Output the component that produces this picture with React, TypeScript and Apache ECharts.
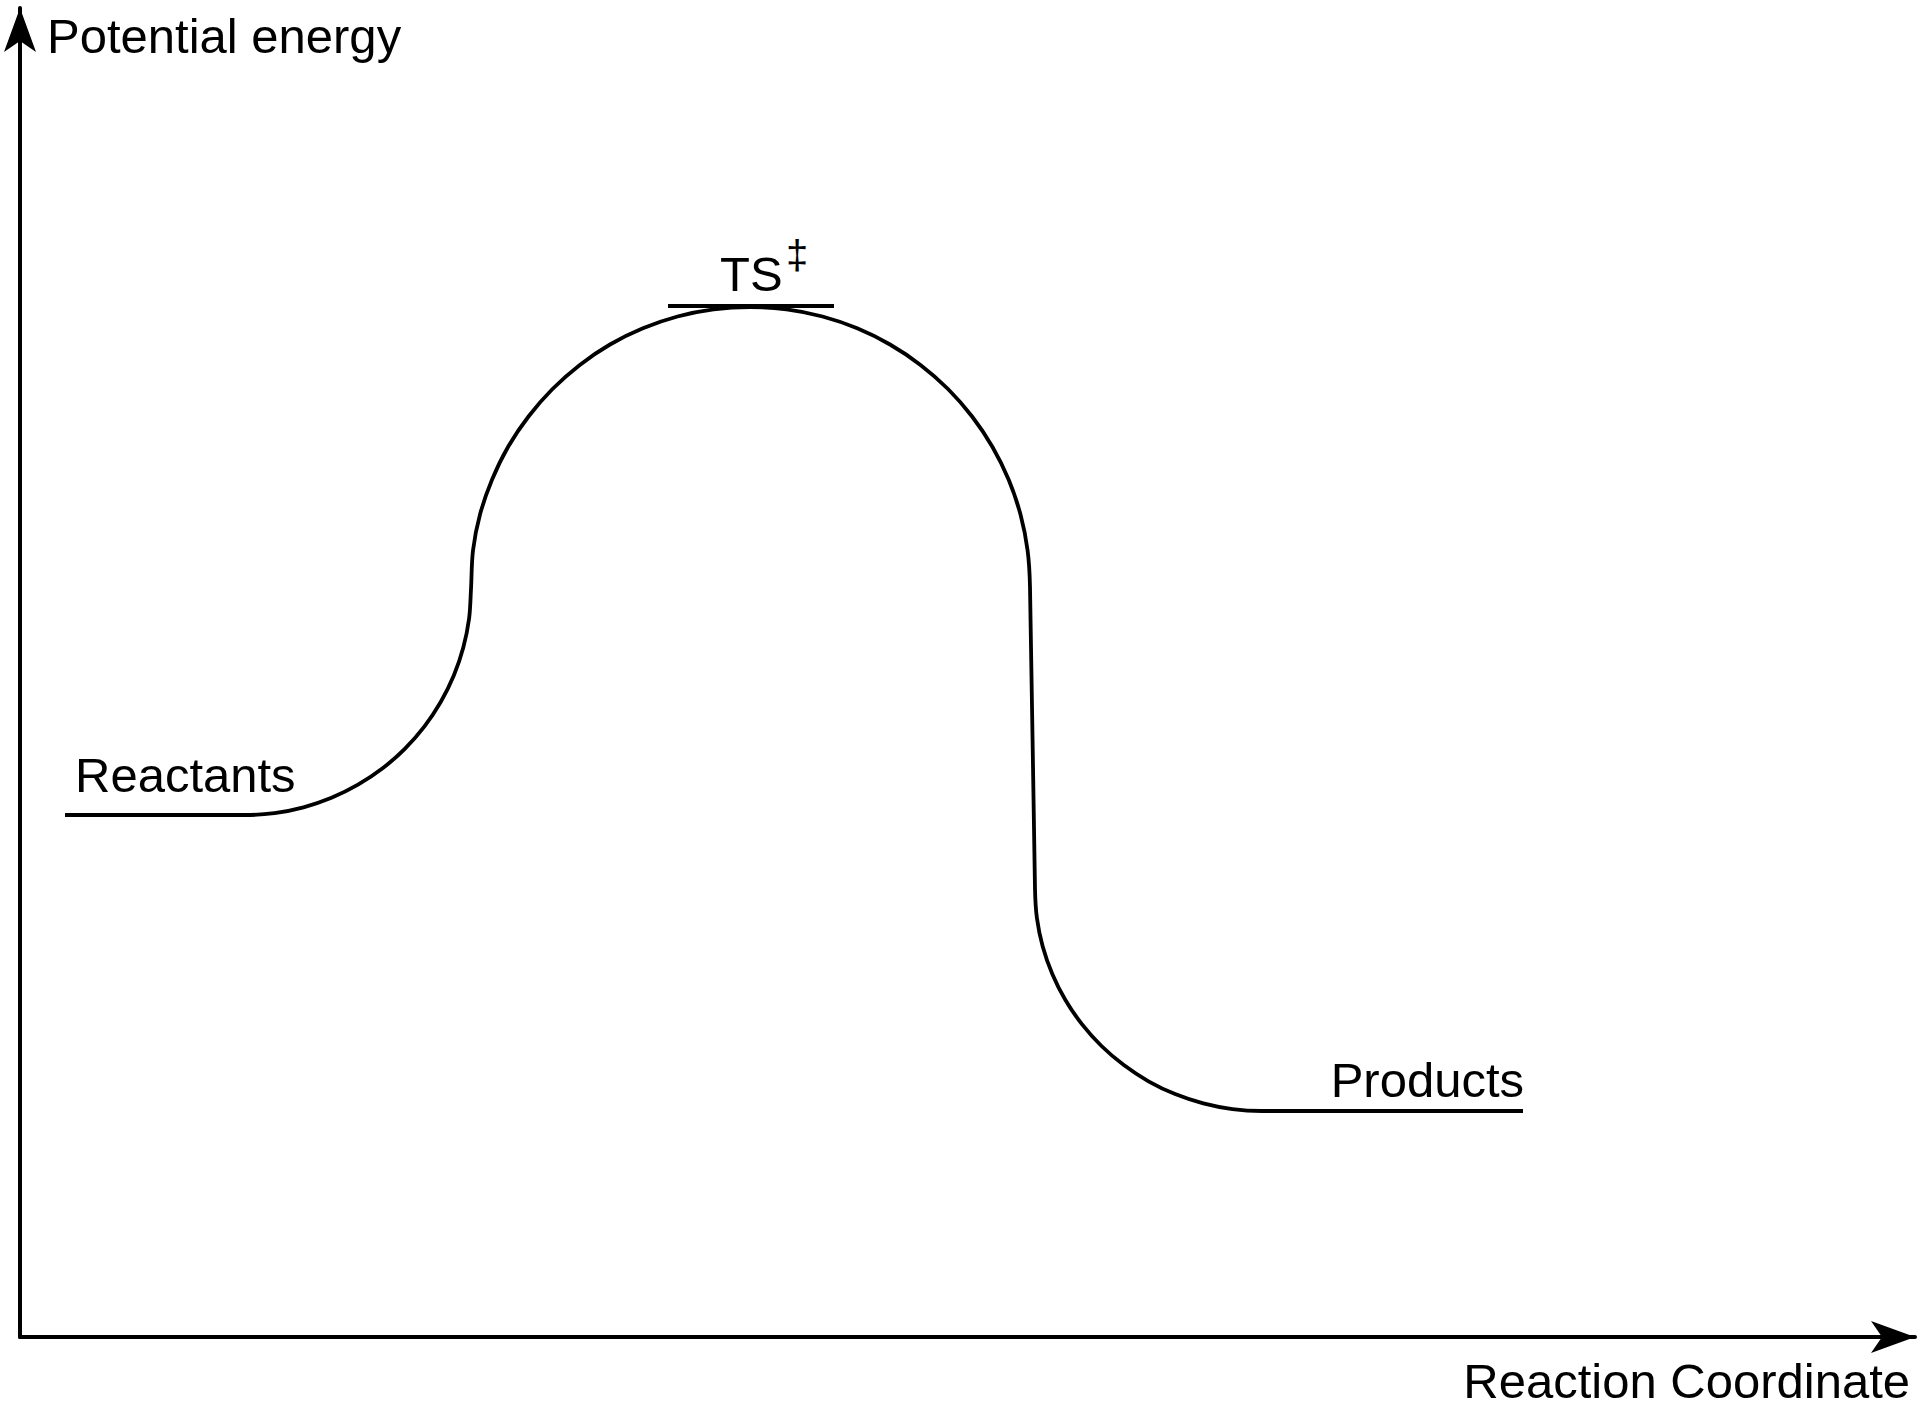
import { useEffect, useRef } from "react";
import * as echarts from "echarts";

// Energy profile (arbitrary units: x = reaction coordinate, y = potential energy)
const reactantsX = [4.5, 22.5];
const reactantsY = [52.2, 52.2];
const ascentX = [25.45, 28.35, 31.15, 33.8, 36.26, 38.48, 40.43, 42.07, 43.38, 44.33, 44.91, 45.1];
const ascentY = [52.39, 52.97, 53.92, 55.23, 56.87, 58.82, 61.04, 63.5, 66.15, 68.95, 71.85, 74.8];
const barrierX = [
  45.3, 46.0, 47.2, 48.8, 50.85, 53.25, 55.98, 59.0, 62.29, 65.75, 69.35, 73.0,
  76.66, 80.25, 83.72, 87.0, 90.05, 92.8, 95.21, 97.25, 98.87, 100.05, 100.76, 101.0,
];
const barrierY = [
  78.66, 82.25, 85.72, 89.0, 92.05, 94.8, 97.21, 99.25, 100.87, 102.05, 102.76, 103.0,
  102.76, 102.05, 100.87, 99.25, 97.21, 94.8, 92.05, 89.0, 85.72, 82.25, 78.66, 75.0,
];
const descentX = [101.5, 101.69, 102.27, 103.23, 104.54, 106.19, 108.15, 110.38, 112.85, 115.51, 118.33, 121.24, 124.2];
const descentY = [44.8, 41.9, 39.05, 36.31, 33.7, 31.29, 29.1, 27.19, 25.57, 24.29, 23.36, 22.79, 22.6];
const productsX = [150.3];
const productsY = [22.6];

const tsLevelX = [64.8, 81.4];
const tsLevelY = [103.1, 103.1];

const axisRangeX = [0, 189.5];
const axisRangeY = [0, 132.9];

const xAxisName = "Reaction Coordinate";
const yAxisName = "Potential energy";
const reactantsLabel = "Reactants";
const productsLabel = "Products";
const tsLabel = "TS";
const tsMark = "‡";

const FONT = "'Liberation Sans', Arial, Helvetica, sans-serif";

export default function App() {
  const ref = useRef<HTMLDivElement>(null);

  useEffect(() => {
    if (!ref.current) return;
    const chart = echarts.init(ref.current, undefined, { renderer: "svg" });

    const profileX = [...reactantsX, ...ascentX, ...barrierX, ...descentX, ...productsX];
    const profileY = [...reactantsY, ...ascentY, ...barrierY, ...descentY, ...productsY];
    const profile = profileX.map((x, i) => [x, profileY[i]]);
    const tsLevel = tsLevelX.map((x, i) => [x, tsLevelY[i]]);

    const axisLine = {
      show: true,
      onZero: false,
      symbol: ["none", "arrow"],
      symbolSize: [24, 44],
      lineStyle: { color: "#000", width: 4 },
    };

    chart.setOption({
      animation: false,
      backgroundColor: "#fff",
      grid: { left: 20, right: 8, top: 8, bottom: 84, containLabel: false },
      xAxis: {
        type: "value",
        min: axisRangeX[0],
        max: axisRangeX[1],
        axisLine,
        axisTick: { show: false },
        axisLabel: { show: false },
        splitLine: { show: false },
      },
      yAxis: {
        type: "value",
        min: axisRangeY[0],
        max: axisRangeY[1],
        axisLine,
        axisTick: { show: false },
        axisLabel: { show: false },
        splitLine: { show: false },
        name: yAxisName,
        nameLocation: "end",
        nameGap: -28,
        nameTextStyle: {
          fontSize: 49,
          fontFamily: FONT,
          color: "#000",
          align: "left",
          verticalAlign: "middle",
          padding: [0, 0, 0, 27],
        },
      },
      series: [
        {
          type: "line",
          data: profile,
          smooth: 0.33,
          symbol: "none",
          lineStyle: { color: "#000", width: 3.8 },
          silent: true,
        },
        {
          type: "line",
          data: tsLevel,
          symbol: "none",
          lineStyle: { color: "#000", width: 3.8 },
          silent: true,
        },
      ],
      graphic: [
        {
          type: "text",
          x: 1910,
          y: 1381,
          style: { text: xAxisName, font: `49px ${FONT}`, fill: "#000", align: "right", verticalAlign: "middle" },
        },
        {
          type: "text",
          x: 75,
          y: 775,
          style: { text: reactantsLabel, font: `49px ${FONT}`, fill: "#000", align: "left", verticalAlign: "middle" },
        },
        {
          type: "text",
          x: 1524,
          y: 1080,
          style: { text: productsLabel, font: `49px ${FONT}`, fill: "#000", align: "right", verticalAlign: "middle" },
        },
        {
          type: "text",
          x: 720,
          y: 274,
          style: { text: tsLabel, font: `49px ${FONT}`, fill: "#000", align: "left", verticalAlign: "middle" },
        },
        {
          type: "text",
          x: 786,
          y: 255,
          style: { text: tsMark, font: `40px ${FONT}`, fill: "#000", align: "left", verticalAlign: "middle" },
        },
      ],
    });

    return () => chart.dispose();
  }, []);

  return (
    <div
      ref={ref}
      style={{ position: "fixed", left: 0, top: 0, width: 1923, height: 1421, background: "#fff" }}
    />
  );
}
